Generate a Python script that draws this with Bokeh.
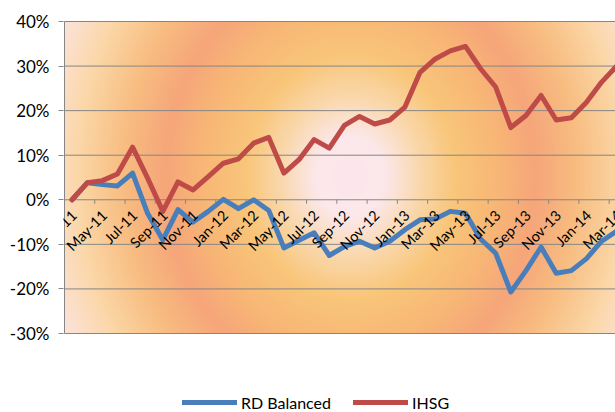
import numpy as np
from math import pi
from bokeh.plotting import figure
from bokeh.models import (Range1d, FixedTicker, NumeralTickFormatter, Legend, LegendItem,
                          ColumnDataSource, LabelSet)
from bokeh.core.properties import value
from bokeh.embed import file_html
from bokeh.resources import INLINE

# ---------------- data ----------------
months = ["Mar-11", "Apr-11", "May-11", "Jun-11", "Jul-11", "Aug-11", "Sep-11", "Oct-11",
          "Nov-11", "Dec-11", "Jan-12", "Feb-12", "Mar-12", "Apr-12", "May-12", "Jun-12",
          "Jul-12", "Aug-12", "Sep-12", "Oct-12", "Nov-12", "Dec-12", "Jan-13", "Feb-13",
          "Mar-13", "Apr-13", "May-13", "Jun-13", "Jul-13", "Aug-13", "Sep-13", "Oct-13",
          "Nov-13", "Dec-13", "Jan-14", "Feb-14", "Mar-14"]

rd_balanced = [0.0, 3.8, 3.4, 3.1, 6.0, -3.1, -9.0, -2.2, -5.0, -2.6, 0.1, -2.0, 0.0, -2.4,
               -10.8, -9.1, -7.4, -12.5, -10.5, -9.3, -10.8, -9.3, -6.7, -4.5, -4.3, -2.6,
               -3.0, -8.8, -12.0, -20.7, -15.9, -10.6, -16.5, -15.9, -13.2, -9.3, -7.0]

ihsg = [0.0, 3.8, 4.3, 5.8, 11.8, 4.8, -2.6, 4.0, 2.2, 5.2, 8.2, 9.2, 12.7, 14.0,
        6.0, 9.0, 13.5, 11.6, 16.7, 18.7, 17.0, 17.9, 20.8, 28.6, 31.6, 33.4,
        34.4, 29.4, 25.3, 16.2, 18.9, 23.4, 17.9, 18.4, 21.9, 26.4, 30.0]

y_ticks = [-0.30, -0.20, -0.10, 0.0, 0.10, 0.20, 0.30, 0.40]
x_tick_labels = months[::2]

# ---------------- geometry ----------------
FONT = "Lato"
GRID = "#868686"
W, H = 615, 412
LEFT, TOP = 63, 20
PX_X = 15.13          # pixels per month
PX_Y = 445.7          # pixels per 100 %
FW, FH = W - LEFT, H - TOP
X0 = -0.5 - 1 / PX_X
X1 = X0 + FW / PX_X
Y1 = y_ticks[-1] + 1 / PX_Y
Y0 = Y1 - FH / PX_Y

p = figure(width=W, height=H, output_backend="svg", toolbar_location=None,
           x_range=Range1d(X0, X1), y_range=Range1d(Y0, Y1),
           min_border_left=LEFT, min_border_right=0, min_border_top=TOP, min_border_bottom=0)
p.outline_line_color = None
p.background_fill_color = "white"
p.border_fill_color = "white"
p.xaxis.visible = False

# ---- radial gradient background of the plot area (-0.5 .. last month, -30% .. 40%) ----
GX0, GX1 = -0.5, X1
GY0, GY1 = y_ticks[0], y_ticks[-1]
GW = int(round((GX1 - GX0) * PX_X))
GH = int(round((GY1 - GY0) * PX_Y))
cx, cy, vscale = 286.0, 156.0, 1.15
stops_r = [0, 35, 70, 105, 150, 185, 225, 270, 330]
stops_c = [(252, 230, 238), (252, 232, 235), (250, 216, 172), (249, 198, 122),
           (248, 182, 118), (246, 166, 122), (248, 188, 128), (251, 214, 165),
           (252, 232, 236)]
xx, yy = np.meshgrid(np.arange(GW) + 0.5, np.arange(GH) + 0.5)
rr = np.sqrt((xx - cx) ** 2 + ((yy - cy) / vscale) ** 2)
img = np.zeros((GH, GW, 4), dtype=np.uint8)
for ch in range(3):
    img[:, :, ch] = np.interp(rr, stops_r, [c[ch] for c in stops_c]).astype(np.uint8)
img[:, :, 3] = 255
img = np.ascontiguousarray(np.flipud(img))
p.image_rgba(image=[img.view(dtype=np.uint32).reshape((GH, GW))],
             x=GX0, y=GY0, dw=GX1 - GX0, dh=GY1 - GY0)

# horizontal grid lines (only across the plot area)
p.xgrid.visible = False
p.ygrid.visible = False
p.segment(x0=[GX0] * len(y_ticks), y0=y_ticks, x1=[GX1] * len(y_ticks), y1=y_ticks,
          line_color=GRID, line_width=1)
# left border of the plot area (value axis line)
p.segment(x0=[GX0], y0=[GY0], x1=[GX0], y1=[GY1], line_color=GRID, line_width=1)

# y axis (ticks + labels)
p.yaxis.ticker = FixedTicker(ticks=y_ticks)
p.yaxis.formatter = NumeralTickFormatter(format="0%")
p.yaxis.axis_line_color = None
p.yaxis.major_tick_line_color = GRID
p.yaxis.major_tick_out = 5
p.yaxis.major_tick_in = 0
p.yaxis.minor_tick_line_color = None
p.yaxis.major_label_text_font = FONT
p.yaxis.major_label_text_font_size = "17px"
p.yaxis.major_label_text_color = "#000000"
p.yaxis.major_label_standoff = 9

# category tick marks on the zero line
idx = list(range(len(months)))
bounds = [i + 0.5 for i in idx[1::2]]
p.segment(x0=bounds, y0=[0] * len(bounds), x1=bounds, y1=[-4 / PX_Y] * len(bounds),
          line_color=GRID, line_width=1)

# series
blue = p.line(idx, [v / 100 for v in rd_balanced], line_color="#4A7EBB", line_width=5,
              line_join="round", line_cap="round")
red = p.line(idx, [v / 100 for v in ihsg], line_color="#BE4B48", line_width=5,
             line_join="round", line_cap="round")

# rotated category labels sitting under the zero line
lab_src = ColumnDataSource(dict(x=idx[::2], y=[0] * len(x_tick_labels), text=x_tick_labels))
p.add_layout(LabelSet(x="x", y="y", text="text", source=lab_src, angle=pi / 4,
                      text_align="right", text_baseline="middle", x_offset=2, y_offset=-13,
                      text_font=value(FONT), text_font_size=value("14.5px"),
                      text_color="#000000"))

legend = Legend(items=[LegendItem(label="RD Balanced", renderers=[blue]),
                       LegendItem(label="IHSG", renderers=[red])],
                orientation="horizontal", location=(119, 0), glyph_width=55, glyph_height=20,
                label_text_font=FONT, label_text_font_size="16px", label_text_color="#000000",
                label_standoff=4, spacing=22, padding=0, margin=0, border_line_color=None,
                background_fill_alpha=0)
p.add_layout(legend, "center")

open("out.html", "w").write(file_html(p, INLINE))
